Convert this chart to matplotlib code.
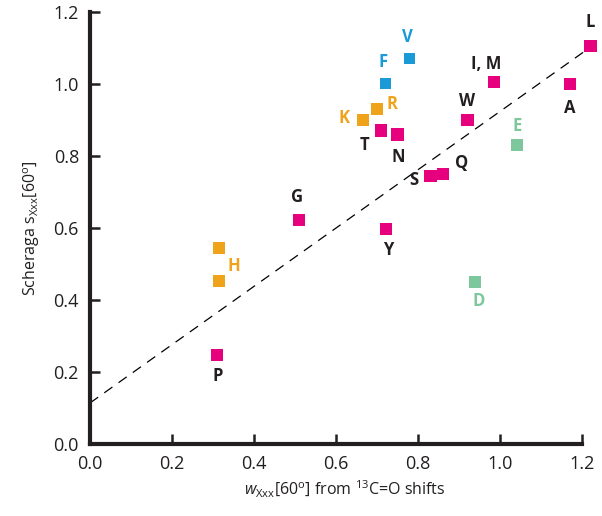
import numpy as np
import matplotlib
matplotlib.use('Agg')
import matplotlib.pyplot as plt

plt.rcParams['font.family'] = ['Open Sans', 'DejaVu Sans']
plt.rcParams['mathtext.fontset'] = 'custom'
plt.rcParams['mathtext.rm'] = 'Open Sans'
plt.rcParams['mathtext.it'] = 'Open Sans:italic'

# residue data: w from 13C=O shifts vs Scheraga s
labels = ['L', 'A', 'I, M', 'W', 'Q', 'S', 'N', 'T', 'G', 'Y', 'P',
          'R', 'K', 'H', 'H', 'F', 'V', 'E', 'D']
w_vals = [1.22, 1.17, 0.985, 0.92, 0.86, 0.83, 0.75, 0.71, 0.51, 0.722, 0.31,
          0.70, 0.666, 0.315, 0.315, 0.72, 0.778, 1.04, 0.939]
s_vals = [1.105, 1.0, 1.005, 0.90, 0.75, 0.745, 0.86, 0.87, 0.622, 0.597, 0.247,
          0.93, 0.90, 0.544, 0.453, 1.0, 1.07, 0.83, 0.45]
groups = ['m', 'm', 'm', 'm', 'm', 'm', 'm', 'm', 'm', 'm', 'm',
          'o', 'o', 'o', 'o', 'b', 'b', 'g', 'g']

# fit line
fit_intercept = 0.114
fit_slope = 0.81

colors = {'m': '#E6007E', 'o': '#EFA31B', 'b': '#1A9AD6', 'g': '#7CC79C'}
text_colors = {'m': '#231F20', 'o': '#EFA31B', 'b': '#1A9AD6', 'g': '#7CC79C'}
sizes = {'m': 80, 'o': 76, 'b': 62, 'g': 76}

# label offsets in pixels (None = no label)
offsets = [(0, 24), (0, -24), (-8, 18), (0, 19), (19, 11), (-17, -4), (1, -23),
           (-17, -14), (-2, 23), (2, -21), (1, -21),
           (15, 5), (-19, 2), (15, -18), None, (-2, 22), (-2, 22), (0, 19), (3, -19)]

fig = plt.figure(figsize=(6.02, 5.16), dpi=100)
ax = fig.add_axes([0.1495, 0.1395, 0.845, 0.8375])

xs = np.linspace(0, 1.22, 2)
ax.plot(xs, fit_intercept + fit_slope * xs, color='black', lw=0.9,
        dashes=(8, 6), zorder=1)

for lab, x, y, g, off in zip(labels, w_vals, s_vals, groups, offsets):
    ax.scatter(x, y, marker='s', s=sizes[g], color=colors[g], edgecolors='none', zorder=3)
    if off is None:
        continue
    ax.annotate(lab, (x, y), xytext=(off[0] * 0.72, off[1] * 0.72),
                textcoords='offset points', ha='center', va='center',
                fontsize=12, fontweight='bold', color=text_colors[g])

ax.set_xlim(0, 1.24)
ax.set_ylim(0, 1.2)
ax.set_xticks(np.arange(0, 1.21, 0.2))
ax.set_yticks(np.arange(0, 1.21, 0.2))
ax.set_xticklabels([f'{v:.1f}' for v in np.arange(0, 1.21, 0.2)])
ax.set_yticklabels([f'{v:.1f}' for v in np.arange(0, 1.21, 0.2)])
ax.tick_params(direction='in', length=7, width=1.8, labelsize=13,
               colors='#231F20', pad=8)
ax.spines['top'].set_visible(False)
ax.spines['right'].set_visible(False)
for sp in ['left', 'bottom']:
    ax.spines[sp].set_linewidth(3)
    ax.spines[sp].set_color('#231F20')
ax.spines['bottom'].set_bounds(0, 1.2)

ax.set_xlabel(r'$w_{\mathrm{Xxx}}$[60$^{\mathrm{o}}$] from $^{13}$C=O shifts',
              fontsize=11.5, color='#231F20', labelpad=4)
ax.set_ylabel(r'Scheraga s$_{\mathrm{Xxx}}$[60$^{\mathrm{o}}$]',
              fontsize=11.5, color='#231F20', labelpad=8)

fig.savefig('out.png', dpi=100)
